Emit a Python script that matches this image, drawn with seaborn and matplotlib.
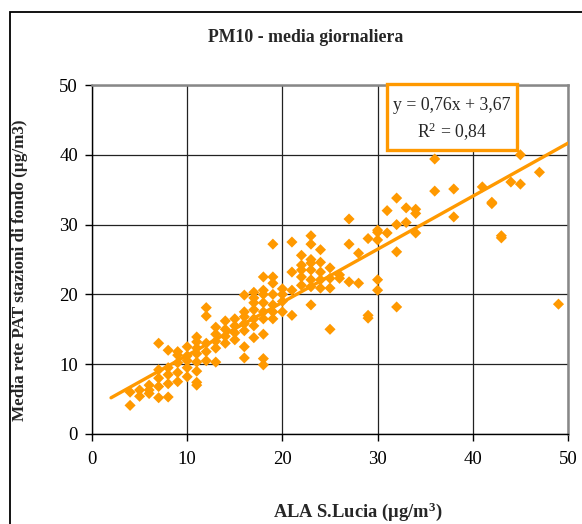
import numpy as np
import pandas as pd
import seaborn as sns
import matplotlib
matplotlib.use('agg')
import matplotlib.pyplot as plt
from matplotlib.patches import Rectangle

# daily PM10 means: ALA S.Lucia (x) vs PAT background stations mean (y)
ala = [4, 4, 5, 5, 6, 6, 6, 7, 7, 7, 7, 7, 8, 8, 8, 8, 8, 9, 9, 9, 9, 9,
       10, 10, 10, 10, 10, 11, 11, 11, 11, 11, 11, 11, 11, 12, 12, 12, 12, 12,
       13, 13, 13, 13, 13, 14, 14, 14, 14, 15, 15, 15, 15,
       16, 16, 16, 16, 16, 16, 16, 17, 17, 17, 17, 17, 17, 17,
       18, 18, 18, 18, 18, 18, 18, 18, 18, 19, 19, 19, 19, 19, 19, 19,
       20, 20, 20, 20, 21, 21, 21, 21, 22, 22, 22, 22, 22,
       23, 23, 23, 23, 23, 23, 23, 23, 24, 24, 24, 24, 24, 25, 25, 25, 25,
       26, 26, 27, 27, 27, 28, 28, 29, 29, 29, 30, 30, 30, 30, 30,
       31, 31, 32, 32, 32, 32, 33, 33, 34, 34, 34, 36, 36, 38, 38,
       41, 42, 42, 43, 43, 44, 45, 45, 47, 49]
pat = [4.1, 6.0, 5.4, 6.3, 5.8, 6.3, 7.0, 5.2, 6.8, 8.0, 9.2, 13.0, 5.3, 7.2, 8.5, 9.5, 12.0,
       7.5, 8.8, 10.2, 11.3, 11.8,
       8.2, 9.5, 10.5, 11.2, 12.5, 7.0, 7.4, 9.0, 10.3, 11.5, 12.3, 13.2, 13.9,
       10.5, 11.8, 13.0, 16.9, 18.1,
       10.3, 12.3, 13.3, 14.3, 15.3, 13.0, 14.0, 15.0, 16.2, 13.5, 14.5, 15.5, 16.5,
       10.9, 12.5, 14.8, 15.8, 16.8, 17.5, 19.9, 13.8, 15.5, 16.5, 17.8, 18.8, 19.5, 20.3,
       9.9, 10.8, 14.3, 16.5, 17.5, 18.8, 20.0, 20.6, 22.5, 16.5, 17.5, 18.5, 20.0, 21.6, 22.5, 27.2,
       17.5, 19.0, 20.0, 20.8, 17.0, 20.6, 23.2, 27.5, 21.3, 22.5, 23.5, 24.2, 25.6,
       18.5, 21.1, 22.1, 23.5, 24.5, 25.0, 27.2, 28.4, 20.9, 22.1, 23.2, 24.6, 26.4,
       15.0, 20.9, 22.3, 23.8,
       22.8, 22.3, 21.8, 27.2, 30.8, 21.6, 25.9, 16.6, 17.0, 28.0, 20.6, 22.1, 27.8, 28.9, 29.2,
       28.8, 32.0, 18.2, 26.1, 30.0, 33.8, 30.3, 32.4, 28.8, 31.6, 32.2, 34.8, 39.4, 31.1, 35.1,
       35.4, 33.0, 33.2, 28.1, 28.4, 36.1, 35.8, 40.0, 37.5, 18.6]

# trendline as reported on the chart (Excel linear fit)
slope = 0.76
intercept = 3.67
trend_x = [2, 50]

df = pd.DataFrame({'ala': ala, 'pat': pat})
trend = pd.DataFrame({'x': trend_x})
trend['y'] = slope * trend['x'] + intercept

orange = '#FF9900'

sns.set_style('white')
plt.rcParams['font.family'] = ['Liberation Serif', 'DejaVu Serif']
plt.rcParams['mathtext.fontset'] = 'custom'
plt.rcParams['mathtext.rm'] = 'Liberation Serif'
plt.rcParams['mathtext.it'] = 'Liberation Serif:italic'
plt.rcParams['mathtext.bf'] = 'Liberation Serif:bold'

fig = plt.figure(figsize=(5.82, 5.24), dpi=100)
ax = fig.add_axes([92/582, 1 - 434/524, 476/582, 349/524])

sns.scatterplot(data=df, x='ala', y='pat', marker='D', s=32, color=orange,
                edgecolor='none', linewidth=0, ax=ax, zorder=3)
sns.lineplot(data=trend, x='x', y='y', color=orange, linewidth=2.4, ax=ax, zorder=4)

ax.set_xlim(0, 50)
ax.set_ylim(0, 50)
ax.set_xticks(range(0, 51, 10))
ax.set_yticks(range(0, 51, 10))
ax.grid(True, color='#222222', linewidth=0.9)
ax.set_axisbelow(True)
ax.tick_params(axis='both', direction='out', length=5, width=1, labelsize=13.5,
               colors='black', pad=5, bottom=True, left=True)
ax.tick_params(axis='x', pad=7)

for side in ['left', 'bottom']:
    ax.spines[side].set_color('black')
    ax.spines[side].set_linewidth(1)
for side in ['top', 'right']:
    ax.spines[side].set_color('#888888')
    ax.spines[side].set_linewidth(1.8)

ax.set_xlabel('ALA S.Lucia (µg/m$^\\mathbf{3}$)', fontsize=13.3, fontweight='bold')
ax.set_ylabel('Media rete PAT stazioni di fondo (µg/m3)', fontsize=12.3, fontweight='bold')
ax.xaxis.set_label_coords(0.559, -0.19)
ax.yaxis.set_label_coords(-0.135, 0.47)

fig.text(306/582, 1 - 38/524, 'PM10 - media giornaliera', ha='center', va='center',
         fontsize=12.8, fontweight='bold')

# equation box
box = Rectangle((0.620, 0.814), 0.273, 0.189, transform=ax.transAxes, facecolor='white',
                edgecolor=orange, linewidth=2.4, clip_on=False, zorder=6)
ax.add_patch(box)
ax.text(0.7565, 0.94, 'y = 0,76x + 3,67', transform=ax.transAxes, ha='center', va='center',
        fontsize=12.8, zorder=7)
ax.text(0.7565, 0.866, 'R$^2$ = 0,84', transform=ax.transAxes, ha='center', va='center',
        fontsize=12.8, zorder=7)

# outer chart frame (cropped on right and bottom)
frame = Rectangle((10/582, -0.1), 1.2, 1 - 12/524 + 0.1, transform=fig.transFigure,
                  facecolor='none', edgecolor='black', linewidth=1.3, clip_on=False)
fig.patches.append(frame)

fig.savefig('out.png', dpi=100)
plt.close(fig)
